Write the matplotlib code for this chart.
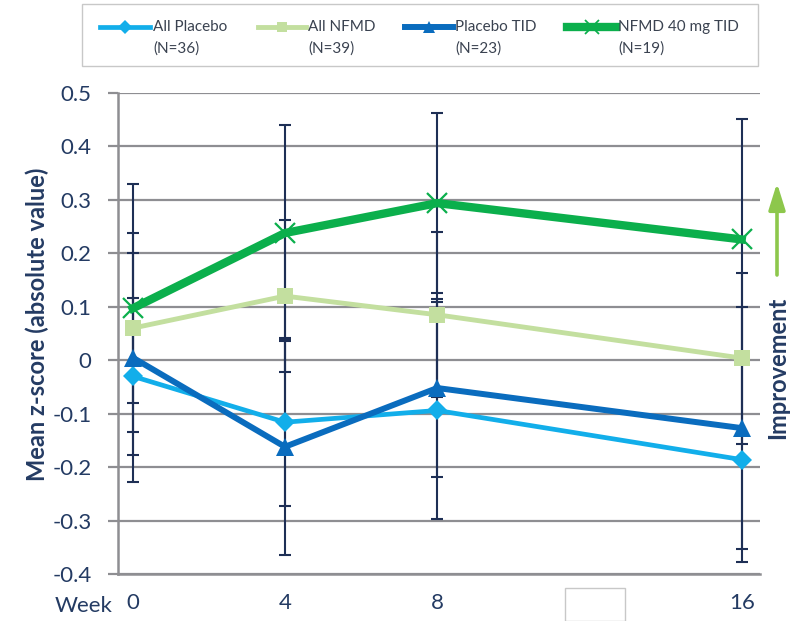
import matplotlib
matplotlib.use("Agg")
import matplotlib.pyplot as plt
from matplotlib.patches import Rectangle
from matplotlib.lines import Line2D

plt.rcParams['font.family'] = ['Lato', 'DejaVu Sans']

# ---------------- data ----------------
weeks = [0, 4, 8, 16]
tick_weeks = [0, 4, 8, 16]
tick_labels = ["0", "4", "8", "16"]
y_ticks = [0.5, 0.4, 0.3, 0.2, 0.1, 0, -0.1, -0.2, -0.3, -0.4]
y_tick_labels = ["0.5", "0.4", "0.3", "0.2", "0.1", "0", "-0.1", "-0.2", "-0.3", "-0.4"]

series_names = ["All Placebo", "All NFMD", "Placebo TID", "NFMD 40 mg TID"]
series_n = ["(N=36)", "(N=39)", "(N=23)", "(N=19)"]

all_placebo = [-0.030, -0.116, -0.094, -0.186]
all_placebo_err = [0.147, 0.156, 0.203, 0.191]
all_nfmd = [0.060, 0.120, 0.085, 0.004]
all_nfmd_err = [0.140, 0.142, 0.154, 0.160]
placebo_tid = [0.005, -0.162, -0.052, -0.127]
placebo_tid_err = [0.233, 0.203, 0.167, 0.226]
nfmd40 = [0.097, 0.238, 0.294, 0.226]
nfmd40_err = [0.232, 0.202, 0.168, 0.225]

values = [all_placebo, all_nfmd, placebo_tid, nfmd40]
errors = [all_placebo_err, all_nfmd_err, placebo_tid_err, nfmd40_err]

# ---------------- styles ----------------
colors = ["#12AEEA", "#C3DF9F", "#0A6CBE", "#0BAF4C"]
markers = ["D", "s", "^", "x"]
msizes = [10.5, 11, 13, 15]
lws = [3.4, 3.5, 4.3, 6.0]
mews = [0, 0, 0, 1.6]
navy = "#1E2F55"
grid_grey = "#8E8E92"
text_navy = "#243B63"

fig = plt.figure(figsize=(7.93, 6.21), dpi=100)
ax = fig.add_axes([118/793, 47/621, 642/793, 481/621])

for i in range(4):
    ax.errorbar(weeks, values[i], yerr=errors[i], fmt='none', ecolor=navy,
                elinewidth=1.5, capsize=4.5, capthick=1.5, zorder=3 + i * 0.1)
for i in range(4):
    ax.plot(weeks, values[i], color=colors[i], lw=lws[i], marker=markers[i],
            markersize=msizes[i], markeredgewidth=mews[i],
            markeredgecolor=colors[i], markerfacecolor=colors[i],
            solid_joinstyle='miter', zorder=4 + i * 0.1)

ax.set_xlim(-0.386, 16.48)
ax.set_ylim(-0.4, 0.5)
ax.set_yticks(y_ticks)
ax.set_yticklabels(y_tick_labels)
ax.set_xticks(tick_weeks)
ax.set_xticklabels(tick_labels)

ax.grid(axis='y', color=grid_grey, lw=1.6, zorder=0)
ax.set_axisbelow(True)
for s in ['top', 'right']:
    ax.spines[s].set_visible(False)
for s in ['left', 'bottom']:
    ax.spines[s].set_color(grid_grey)
    ax.spines[s].set_linewidth(1.8)

ax.tick_params(axis='y', length=7, width=1.6, color=grid_grey, pad=12,
               labelsize=16, labelcolor=text_navy)
ax.tick_params(axis='x', length=0, pad=14, labelsize=16, labelcolor=text_navy)

ax.set_ylabel("Mean z-score (absolute value)", fontsize=17, fontweight='bold',
              color=text_navy)
ax.yaxis.set_label_coords(-0.108, 0.52)

fig.text(55/793, 0.024, "Week", fontsize=16, color=text_navy, va='center', ha='left')

# white box covering week-12 label
fig.patches.append(Rectangle((565/793, 0), 60/793, 33/621, transform=fig.transFigure,
                             facecolor='white', edgecolor='#C8C8C8', lw=1.0))

# Improvement arrow and label
ax.annotate("", xy=(777/793, (621-183)/621), xytext=(777/793, (621-275)/621),
            xycoords='figure fraction', textcoords='figure fraction',
            arrowprops=dict(arrowstyle='-|>,head_width=0.25,head_length=0.8',
                            lw=2.6, color='#8DC74C', mutation_scale=20,
                            shrinkA=0, shrinkB=0))
fig.text(778/793, (621-368)/621, "Improvement", rotation=90, fontsize=17,
         fontweight='bold', color=text_navy, ha='center', va='center')

# legend (manual, two-line labels with handle on first line)
fig.patches.append(Rectangle((82/793, (621-66)/621), 676/793, 62/621,
                             transform=fig.transFigure, facecolor='white',
                             edgecolor='#C8C8C8', lw=1.0))
leg_line_x = [(100, 150), (258, 306), (405, 453), (567, 616)]
leg_text_x = [153, 308, 455, 618]
y1 = (621-27)/621
y2 = (621-49)/621
for i in range(4):
    x0, x1 = leg_line_x[i]
    fig.lines.append(Line2D([x0/793, x1/793], [y1, y1], transform=fig.transFigure,
                            color=colors[i], lw=lws[i]))
    fig.lines.append(Line2D([(x0+x1)/2/793], [y1], transform=fig.transFigure,
                            color=colors[i], marker=markers[i], markersize=msizes[i]*0.7,
                            markeredgewidth=mews[i]*0.8, markeredgecolor=colors[i],
                            markerfacecolor=colors[i], lw=0))
    fig.text(leg_text_x[i]/793, y1, series_names[i], fontsize=11, color='#3A4250',
             va='center', ha='left')
    fig.text(leg_text_x[i]/793, y2, series_n[i], fontsize=11, color='#3A4250',
             va='center', ha='left')

fig.savefig("out.png", dpi=100)
